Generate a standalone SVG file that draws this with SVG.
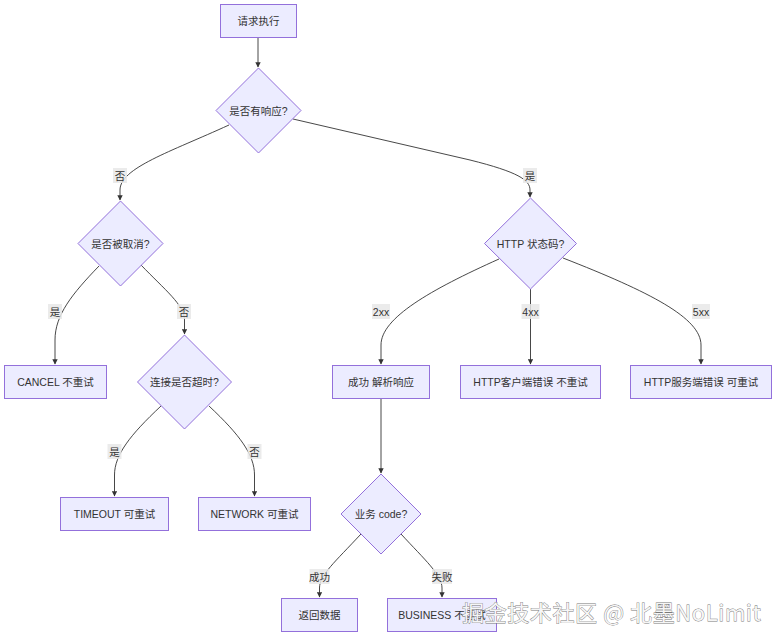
<svg xmlns="http://www.w3.org/2000/svg" width="784" height="643" viewBox="0 0 784 643">
<defs>
<marker id="arr" viewBox="0 0 10 10" refX="9" refY="5" markerWidth="6" markerHeight="6" orient="auto">
<path d="M0,0 L10,5 L0,10 z" fill="#333"/>
</marker>
<style>
.n{fill:#ECECFF;stroke:#9370DB;stroke-width:1}
.t{font-family:"Liberation Sans","Noto Sans CJK SC",sans-serif;font-size:10.5px;fill:#333;text-anchor:middle;dominant-baseline:central}
.e{fill:none;stroke:#333;stroke-width:0.9;marker-end:url(#arr)}
.lb{fill:#e8e8e8;opacity:0.85}
.wm{font-family:"Noto Sans CJK SC","Liberation Sans",sans-serif;font-size:22px;letter-spacing:0.6px;fill:#f6f6f6;stroke:#7a7a7a;stroke-width:0.8;paint-order:stroke;dominant-baseline:central}
</style>
</defs>
<rect width="784" height="643" fill="#fff"/>
<g id="connectors">
<path class="e" d="M258,38 L258,67"/>
<path class="e" d="M229,125 C170,152 120,168 120,190 L120,200"/>
<path class="e" d="M293,119 L470,160 C518,172 530,180 530,190 L530,197"/>
<path class="e" d="M99,266 C72,294 55,315 55,340 L55,364"/>
<path class="e" d="M141,265 C165,290 184.5,305 184.5,320 L184.5,334"/>
<path class="e" d="M499,259 C430,290 381,318 381,345 L381,364"/>
<path class="e" d="M530.5,289 L530.5,364"/>
<path class="e" d="M563,258 C650,292 701,318 701,345 L701,364"/>
<path class="e" d="M381,398 L381,473"/>
<path class="e" d="M161,406 C130,435 114.5,455 114.5,475 L114.5,496"/>
<path class="e" d="M209,406 C240,435 254.5,455 254.5,475 L254.5,496"/>
<path class="e" d="M361,534 C335,562 319.5,575 319.5,588 L319.5,597"/>
<path class="e" d="M401,534 C425,560 442,575 442,588 L442,597"/>
<rect class="lb" x="113" y="168" width="14" height="15"/><text class="t" x="120" y="175.5">否</text>
<rect class="lb" x="523" y="168" width="14" height="15"/><text class="t" x="530" y="175.5">是</text>
<rect class="lb" x="48" y="304" width="14" height="15"/><text class="t" x="55" y="311.5">是</text>
<rect class="lb" x="177" y="304" width="14" height="15"/><text class="t" x="184" y="311.5">否</text>
<rect class="lb" x="372" y="304" width="18" height="15"/><text class="t" x="381" y="311.5">2xx</text>
<rect class="lb" x="521.5" y="304" width="18" height="15"/><text class="t" x="530.5" y="311.5">4xx</text>
<rect class="lb" x="692" y="304" width="18" height="15"/><text class="t" x="701" y="311.5">5xx</text>
<rect class="lb" x="107.5" y="444" width="14" height="15"/><text class="t" x="114.5" y="451.5">是</text>
<rect class="lb" x="247.5" y="444" width="14" height="15"/><text class="t" x="254.5" y="451.5">否</text>
<rect class="lb" x="309.5" y="569" width="20" height="15"/><text class="t" x="319.5" y="576.5">成功</text>
<rect class="lb" x="432" y="569" width="20" height="15"/><text class="t" x="442" y="576.5">失败</text>
</g>
<g id="n_start"><rect class="n" x="220.5" y="4.5" width="76" height="33"/><text class="t" x="258.5" y="21">请求执行</text></g>
<g id="n_resp"><polygon class="n" points="258.5,68 301,110.5 258.5,153 216,110.5"/><text class="t" x="258.5" y="110.5">是否有响应?</text></g>
<g id="n_cancel_q"><polygon class="n" points="120.5,201 163,243.5 120.5,286 78,243.5"/><text class="t" x="120.5" y="243.5">是否被取消?</text></g>
<g id="n_http"><polygon class="n" points="530.5,198 576.5,243.5 530.5,289 484.5,243.5"/><text class="t" x="530.5" y="243.5">HTTP 状态码?</text></g>
<g id="n_cancel"><rect class="n" x="4.5" y="365.5" width="102" height="33"/><text class="t" x="55.5" y="382">CANCEL 不重试</text></g>
<g id="n_timeout_q"><polygon class="n" points="184.5,335 231.5,382 184.5,429 137.5,382"/><text class="t" x="184.5" y="382">连接是否超时?</text></g>
<g id="n_ok"><rect class="n" x="332.5" y="365.5" width="97" height="33"/><text class="t" x="381" y="382">成功 解析响应</text></g>
<g id="n_4xx"><rect class="n" x="460.5" y="365.5" width="140" height="33"/><text class="t" x="530.5" y="382">HTTP客户端错误 不重试</text></g>
<g id="n_5xx"><rect class="n" x="630.5" y="365.5" width="141" height="33"/><text class="t" x="701" y="382">HTTP服务端错误 可重试</text></g>
<g id="n_timeout"><rect class="n" x="60.5" y="497.5" width="108" height="33"/><text class="t" x="114.5" y="514">TIMEOUT 可重试</text></g>
<g id="n_network"><rect class="n" x="198.5" y="497.5" width="112" height="33"/><text class="t" x="254.5" y="514">NETWORK 可重试</text></g>
<g id="n_code"><polygon class="n" points="381,474 421,514 381,554 341,514"/><text class="t" x="381" y="514">业务 code?</text></g>
<g id="n_data"><rect class="n" x="281.5" y="598.5" width="76" height="33"/><text class="t" x="319.5" y="615">返回数据</text></g>
<g id="n_business"><rect class="n" x="387.5" y="598.5" width="109" height="33"/><text class="t" x="442" y="615">BUSINESS 不重试</text></g>
<text class="wm" x="462" y="611">掘金技术社区 @ 北墨NoLimit</text>
</svg>
